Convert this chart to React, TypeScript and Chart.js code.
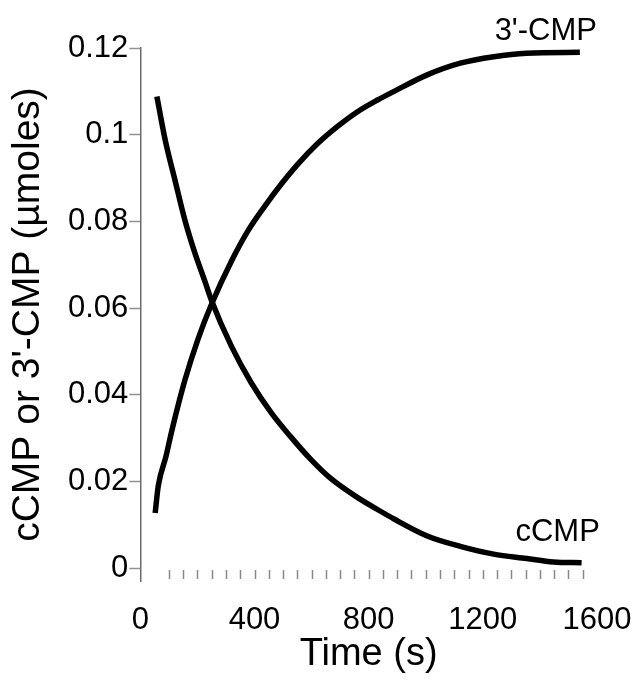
import React, { useEffect, useRef } from "react";
import { Chart, registerables } from "chart.js";

Chart.register(...registerables);

// cCMP series (time in s, amount in µmoles)
const cCmpTime = [58, 87, 121, 156, 191, 226, 249, 319, 389, 459, 528, 598, 668, 760, 831, 889, 1005, 1121, 1238, 1354, 1447, 1546];
const cCmpValue = [0.1088, 0.0988, 0.0896, 0.0803, 0.0727, 0.0662, 0.0618, 0.0512, 0.0427, 0.0358, 0.0302, 0.0250, 0.0206, 0.0163, 0.0135, 0.0113, 0.0074, 0.0050, 0.0032, 0.0022, 0.0014, 0.0012];

// 3'-CMP series
const cmp3Time = [52, 63, 90, 110, 156, 203, 249, 319, 377, 435, 494, 552, 622, 691, 761, 831, 889, 1005, 1121, 1238, 1354, 1540];
const cmp3Value = [0.0127, 0.0190, 0.0258, 0.0316, 0.0433, 0.0530, 0.0608, 0.0708, 0.0778, 0.0834, 0.0886, 0.0932, 0.0980, 0.1019, 0.1053, 0.1080, 0.1100, 0.1138, 0.1165, 0.1180, 0.1188, 0.1190];

// axes
const xTickValues = [0, 400, 800, 1200, 1600];
const yTickValues = [0, 0.02, 0.04, 0.06, 0.08, 0.1, 0.12];
const xMinorTicks = [100, 150, 200, 250, 300, 350, 400, 450, 500, 550, 600, 650, 700, 750, 800, 850, 900, 950, 1000, 1050, 1100, 1150, 1200, 1250, 1300, 1350, 1400, 1450, 1500, 1550];

// curve labels: text, anchor time, anchor value (right-aligned)
const curveLabelText = ["3'-CMP", "cCMP"];
const curveLabelTime = [1600, 1610];
const curveLabelValue = [0.1239, 0.0081];

const FONT = '"Liberation Sans", Arial, Helvetica, sans-serif';

const decorPlugin = {
  id: "decor",
  afterDatasetsDraw(chart: any) {
    const { ctx, scales } = chart;
    const x = scales.x;
    const y = scales.y;
    ctx.save();
    ctx.strokeStyle = "#888";
    ctx.lineWidth = 1.5;
    const y0 = y.getPixelForValue(0);
    for (const t of xMinorTicks) {
      const px = Math.round(x.getPixelForValue(t)) + 0.5;
      ctx.beginPath();
      ctx.moveTo(px, y0 + 2);
      ctx.lineTo(px, y0 + 11);
      ctx.stroke();
    }
    ctx.fillStyle = "#000";
    ctx.font = `31px ${FONT}`;
    ctx.textAlign = "right";
    ctx.textBaseline = "middle";
    curveLabelText.forEach((txt, i) => {
      ctx.fillText(txt, x.getPixelForValue(curveLabelTime[i]), y.getPixelForValue(curveLabelValue[i]));
    });
    ctx.restore();
  },
};

export default function App() {
  const ref = useRef<HTMLCanvasElement | null>(null);

  useEffect(() => {
    if (!ref.current) return;
    const chart = new Chart(ref.current, {
      type: "line",
      data: {
        datasets: [
          {
            label: "cCMP",
            data: cCmpTime.map((t, i) => ({ x: t, y: cCmpValue[i] })),
            borderColor: "#000",
            borderWidth: 5.5,
            pointRadius: 0,
            cubicInterpolationMode: "monotone",
            fill: false,
          },
          {
            label: "3'-CMP",
            data: cmp3Time.map((t, i) => ({ x: t, y: cmp3Value[i] })),
            borderColor: "#000",
            borderWidth: 5.5,
            pointRadius: 0,
            cubicInterpolationMode: "monotone",
            fill: false,
          },
        ],
      },
      options: {
        responsive: false,
        animation: false,
        layout: { padding: { top: 48, right: 39, bottom: 0, left: 0 } },
        plugins: {
          legend: { display: false },
          tooltip: { enabled: false },
        },
        scales: {
          x: {
            type: "linear",
            min: 0,
            max: 1600,
            afterBuildTicks: (scale: any) => {
              scale.ticks = xTickValues.map((v) => ({ value: v }));
            },
            grid: {
              display: true,
              drawOnChartArea: false,
              drawTicks: true,
              tickLength: 24,
              color: "rgba(0,0,0,0)",
            },
            border: { display: false },
            ticks: {
              autoSkip: false,
              maxRotation: 0,
              padding: 0,
              color: "#000",
              font: { family: FONT, size: 31, lineHeight: 1 },
              callback: (v: any) => String(v),
            },
            title: {
              display: true,
              text: "Time (s)",
              color: "#000",
              font: { family: FONT, size: 38, lineHeight: 1 },
              padding: { top: 0, bottom: 16 },
            },
          },
          y: {
            type: "linear",
            min: -0.003,
            max: 0.12,
            afterBuildTicks: (scale: any) => {
              scale.ticks = yTickValues.map((v) => ({ value: v }));
            },
            grid: {
              display: true,
              drawOnChartArea: false,
              drawTicks: true,
              tickLength: 11,
              tickWidth: 1.5,
              color: "#909090",
            },
            border: { display: true, color: "#6a6a6a", width: 1.5 },
            ticks: {
              autoSkip: false,
              padding: 1,
              color: "#000",
              font: { family: FONT, size: 31, lineHeight: 1 },
              callback: (v: any) => String(v),
            },
            title: {
              display: true,
              text: "cCMP or 3'-CMP (µmoles)",
              color: "#000",
              font: { family: FONT, size: 39, lineHeight: 1 },
              padding: { top: 9, bottom: 19 },
            },
          },
        },
      },
      plugins: [decorPlugin],
    } as any);
    return () => chart.destroy();
  }, []);

  return (
    <div style={{ position: "absolute", left: 0, top: 0, width: 636, height: 690, background: "#fff" }}>
      <canvas ref={ref} width={636} height={690} />
    </div>
  );
}
